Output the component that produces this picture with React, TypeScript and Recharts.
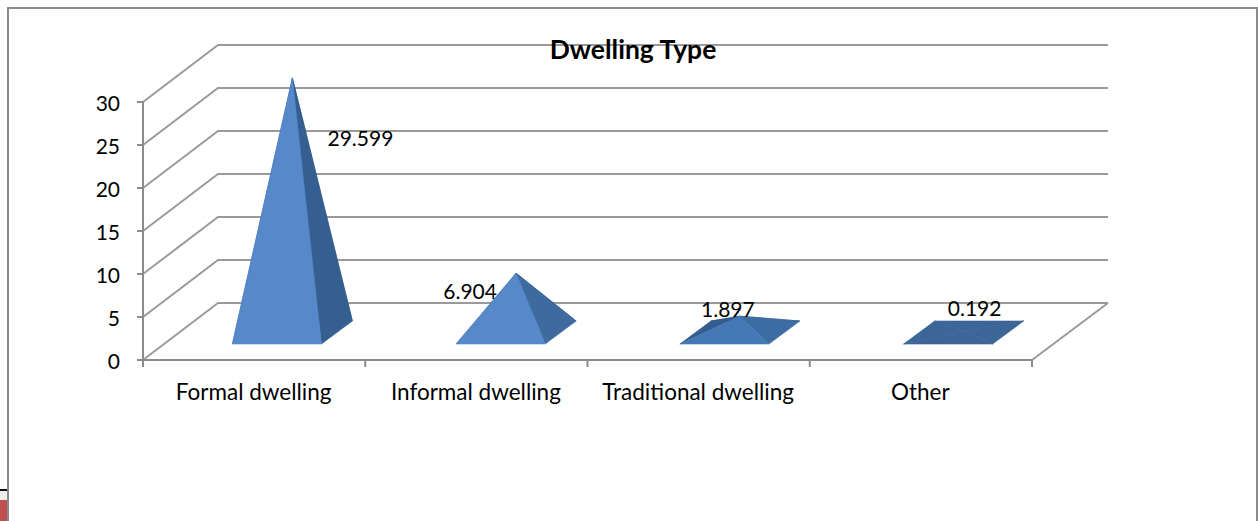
import React from 'react';
import { Bar, BarChart, CartesianGrid, LabelList, XAxis, YAxis } from 'recharts';

const categories = ['Formal dwelling', 'Informal dwelling', 'Traditional dwelling', 'Other'];
const values = [29.599, 6.904, 1.897, 0.192];
const yTicks = [0, 5, 10, 15, 20, 25, 30];

// face shades per pyramid, flatter pyramids catch less light
const frontShades = ['#5688CA', '#5688CA', '#4478B6', '#3C6598'];
const rightShades = ['#355F90', '#3E6A9F', '#3D6BA3', '#3C6598'];
const leftShades = ['#345C8E', '#345C8E', '#345C8E', '#3C6598'];

// hand placed data labels, relative to each apex
const labelNudges = [[68, 60], [-46, 17], [-12, -8], [11, -23]];

const chartData = categories.map((name, i) => ({ name, value: values[i] }));

const FONT = 'Lato, sans-serif';
const AXIS_GREY = '#8c8c8c';

// the fake 3D box the columns sit in
const WALL_DX = 75;
const WALL_DY = 57;
const PLOT_BOTTOM = 360;
const SLOT_WIDTH = 889 / categories.length;
// floor position of the pyramid base, from the column slot
const BASE_DX = 22.4;
const BASE_DY = 16;
const BASE_SPREAD = 1.5;
const DEPTH_X = 31;
const DEPTH_Y = 23;

const baseLeft = (x: number, index: number) => x + BASE_DX + index * BASE_SPREAD;

const apexOf = (x: number, y: number, width: number, index: number) => ({
    x: baseLeft(x, index) + width / 2 + DEPTH_X / 2,
    y: y - BASE_DY - DEPTH_Y / 2,
});

const Pyramid = (props: any) => {
    const { x, y, width, height, index } = props;
    const apex = apexOf(x, y, width, index);
    const left = baseLeft(x, index);
    const right = left + width;
    const front = y + height - BASE_DY;
    const back = front - DEPTH_Y;
    const face = (a: number[], b: number[], fill: string) => (
        <polygon
            points={`${a[0]},${a[1]} ${b[0]},${b[1]} ${apex.x},${apex.y}`}
            fill={fill}
            stroke={fill}
            strokeWidth={0.6}
        />
    );
    return (
        <g>
            {face([left + DEPTH_X, back], [right + DEPTH_X, back], leftShades[index])}
            {face([left, front], [left + DEPTH_X, back], leftShades[index])}
            {face([right, front], [right + DEPTH_X, back], rightShades[index])}
            {face([left, front], [right, front], frontShades[index])}
        </g>
    );
};

const PyramidLabel = (props: any) => {
    const { x, y, width, value, index } = props;
    const apex = apexOf(x, y, width, index);
    const [dx, dy] = labelNudges[index];
    return (
        <text
            x={apex.x + dx}
            y={apex.y + dy}
            textAnchor="middle"
            dominantBaseline="central"
            fontFamily={FONT}
            fontSize={21}
            fill="#000"
        >
            {value}
        </text>
    );
};

// each grid line runs up the side wall and then along the back wall
const WallLine = (props: any) => {
    const { x1, x2, y1 } = props;
    const backY = y1 - WALL_DY;
    const backX = x2 + WALL_DX + 1;
    return (
        <g key={`wall-${y1}`}>
            <polyline
                points={`${x1},${y1} ${x1 + WALL_DX},${backY} ${backX},${backY}`}
                fill="none"
                stroke="#9a9a9a"
                strokeWidth={2}
            />
            {y1 >= PLOT_BOTTOM && (
                <line x1={x2} y1={y1} x2={backX} y2={backY} stroke="#9a9a9a" strokeWidth={2} />
            )}
        </g>
    );
};

// tick marks sit on the slot boundaries, labels stay centred in the slot
const SlotTick = (props: any) => {
    const { x, y, payload, index } = props;
    const edge = x - SLOT_WIDTH / 2;
    const axisY = PLOT_BOTTOM;
    return (
        <g>
            <line x1={edge} y1={axisY} x2={edge} y2={axisY + 7} stroke={AXIS_GREY} strokeWidth={2} />
            {index === categories.length - 1 && (
                <line
                    x1={edge + SLOT_WIDTH}
                    y1={axisY}
                    x2={edge + SLOT_WIDTH}
                    y2={axisY + 7}
                    stroke={AXIS_GREY}
                    strokeWidth={2}
                />
            )}
            <text
                x={x - 0.5}
                y={y + 23}
                textAnchor="middle"
                dominantBaseline="central"
                fontFamily={FONT}
                fontSize={22.5}
                fill="#000"
            >
                {payload.value}
            </text>
        </g>
    );
};

const App = () => {
    return (
        <div
            style={{
                position: 'absolute',
                left: 0,
                top: 0,
                width: 1258,
                height: 521,
                overflow: 'hidden',
                background: '#fff',
            }}
        >
            <div
                style={{
                    position: 'absolute',
                    left: 4,
                    top: -27,
                    whiteSpace: 'nowrap',
                    fontFamily: FONT,
                    fontSize: 23,
                    lineHeight: '28px',
                    fontWeight: 700,
                    fontStyle: 'italic',
                }}
            >
                Figure 4.5: Housing Distribution by Dwelling Type
            </div>
            <div style={{ position: 'absolute', left: 0, top: 489, width: 7, height: 2, background: '#111' }} />
            <div style={{ position: 'absolute', left: 0, top: 491, width: 7, height: 9, background: '#eee' }} />
            <div style={{ position: 'absolute', left: 0, top: 500, width: 7, height: 21, background: '#C0504D' }} />
            <div
                style={{
                    position: 'absolute',
                    left: 7,
                    top: 7,
                    width: 1251,
                    height: 530,
                    border: '2px solid #8a8a8a',
                    boxSizing: 'border-box',
                }}
            />
            <div style={{ position: 'absolute', left: 0, top: 0 }}>
                <BarChart
                    width={1258}
                    height={521}
                    data={chartData}
                    margin={{ top: 102, right: 226, bottom: 131, left: 83 }}
                    style={{ background: 'transparent' }}
                >
                    <CartesianGrid vertical={false} horizontal={WallLine} />
                    <XAxis
                        dataKey="name"
                        height={30}
                        interval={0}
                        tickLine={false}
                        axisLine={{ stroke: AXIS_GREY, strokeWidth: 2 }}
                        tick={SlotTick}
                    />
                    <YAxis
                        width={60}
                        domain={[0, 30]}
                        ticks={yTicks}
                        tickSize={6}
                        tickMargin={17}
                        axisLine={{ stroke: AXIS_GREY, strokeWidth: 2 }}
                        tickLine={{ stroke: AXIS_GREY, strokeWidth: 2 }}
                        tick={{ fill: '#000', fontFamily: FONT, fontSize: 21, dy: 2 }}
                    />
                    <Bar dataKey="value" barSize={89} shape={Pyramid} isAnimationActive={false}>
                        <LabelList dataKey="value" content={PyramidLabel} />
                    </Bar>
                    <text
                        x={633}
                        y={49}
                        textAnchor="middle"
                        dominantBaseline="central"
                        fontFamily={FONT}
                        fontSize={26.5}
                        fontWeight={700}
                        fill="#000"
                    >
                        Dwelling Type
                    </text>
                </BarChart>
            </div>
        </div>
    );
};

export default App;
